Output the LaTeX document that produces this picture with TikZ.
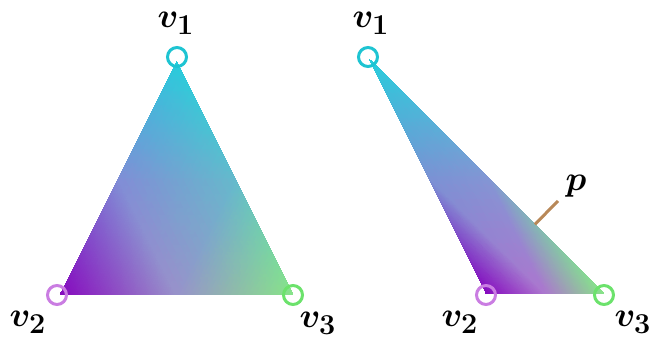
\documentclass[tikz,border=0pt]{standalone}
\usepackage{bm}
\usepackage{pgfplots}
\pgfplotsset{compat=1.18}
\usetikzlibrary{calc}

\definecolor{vonecol}{RGB}{40,204,220}
\definecolor{vtwocol}{RGB}{134,8,190}
\definecolor{vthreecol}{RGB}{136,228,136}
\definecolor{midatwo}{RGB}{128,142,214}
\definecolor{midtwothree}{RGB}{152,146,202}
\definecolor{midathree}{RGB}{100,186,204}
\definecolor{rmidatwo}{RGB}{122,146,212}
\definecolor{rmidtwothree}{RGB}{172,118,206}
\definecolor{rmidathree}{RGB}{130,150,212}
\definecolor{vonering}{RGB}{30,196,210}
\definecolor{vtworing}{RGB}{202,125,226}
\definecolor{vthreering}{RGB}{108,226,108}
\definecolor{leadcol}{RGB}{184,136,88}

\tikzset{
  ring/.style={circle,draw,line width=1.5pt,minimum size=9.5pt,inner sep=0pt},
  vlabel/.style={inner sep=0pt,font=\fontsize{19}{22}\selectfont},
  plead/.style={draw=leadcol,line width=1.5pt}
}

\begin{document}
\begin{tikzpicture}[x=0.5pt,y=0.5pt]
\useasboundingbox (0,0) rectangle (649,343);
% shaded triangles, split at the edge midpoints
\begin{axis}[x=0.5pt,y=0.5pt,anchor=origin,at={(0,0)},hide axis,clip=false,
  xmin=0,xmax=649,ymin=0,ymax=343]
\addplot[patch,shader=interp,mesh/color input=explicit] table[meta=c] {
x y c
177 281 color=vonecol
118.5 164.5 color=midatwo
235 164.5 color=midathree
118.5 164.5 color=midatwo
60 48 color=vtwocol
176.5 48 color=midtwothree
235 164.5 color=midathree
176.5 48 color=midtwothree
293 48 color=vthreecol
118.5 164.5 color=midatwo
176.5 48 color=midtwothree
235 164.5 color=midathree
370 283 color=vonecol
428 166.5 color=rmidatwo
487 166.5 color=rmidathree
428 166.5 color=rmidatwo
486 50 color=vtwocol
545 50 color=rmidtwothree
487 166.5 color=rmidathree
545 50 color=rmidtwothree
604 50 color=vthreecol
428 166.5 color=rmidatwo
545 50 color=rmidtwothree
487 166.5 color=rmidathree
};
\end{axis}
% left triangle
\node[ring,draw=vonering] (a1) at (177,286) {};
\node[ring,draw=vtworing] (a2) at (57,48) {};
\node[ring,draw=vthreering] (a3) at (293,48) {};
\node[vlabel] (la1) at (176,320) {$\bm{v_1}$};
\node[vlabel] (la2) at (28,21) {$\bm{v_2}$};
\node[vlabel] (la3) at (318,20) {$\bm{v_3}$};
% right triangle
\coordinate (b1) at (370,283);
\coordinate (b3) at (604,50);
\node[ring,draw=vonering] (c1) at (368,286) {};
\node[ring,draw=vtworing] (c2) at (486,48) {};
\node[ring,draw=vthreering] (c3) at (604,48) {};
\node[vlabel] (lc1) at (371,320) {$\bm{v_1}$};
\node[vlabel] (lc2) at (460,21) {$\bm{v_2}$};
\node[vlabel] (lc3) at (633,21) {$\bm{v_3}$};
% point p on the edge
\coordinate (pe) at ($(b1)!0.705!(b3)$);
\coordinate (pt) at (558,142);
\draw[plead] (pe) -- (pt);
\node[vlabel] (lp) at (576,157) {$\bm{p}$};
\end{tikzpicture}
\end{document}
